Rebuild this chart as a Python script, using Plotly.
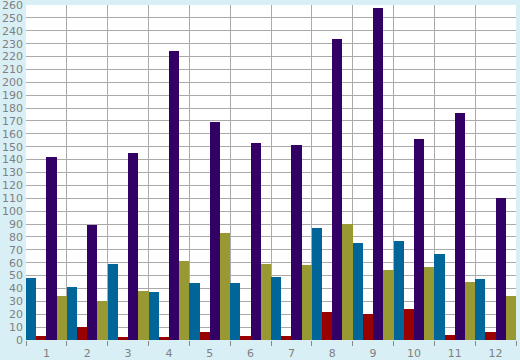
import plotly.graph_objects as go

categories = [1, 2, 3, 4, 5, 6, 7, 8, 9, 10, 11, 12]
tick_labels = [str(c) for c in categories]
series_blue = [48, 41, 59, 37, 44, 44, 49, 87, 75, 77, 67, 47]
series_red = [3, 10, 2, 2, 6, 3, 3, 22, 20, 24, 4, 6]
series_purple = [142, 89, 145, 224, 169, 153, 151, 234, 258, 156, 176, 110]
series_olive = [34, 30, 38, 61, 83, 59, 58, 90, 54, 57, 45, 34]

colors = ["#006699", "#990000", "#330066", "#999933"]
names = ["A", "B", "C", "D"]
data = [series_blue, series_red, series_purple, series_olive]

fig = go.Figure()
for n, c, d in zip(names, colors, data):
    fig.add_trace(go.Bar(x=categories, y=d, name=n, marker=dict(color=c, line=dict(width=0))))

font = dict(family="DejaVu Sans", size=11, color="#808080")
fig.update_layout(
    width=520, height=360,
    margin=dict(l=26, r=4, t=5, b=20, autoexpand=False),
    paper_bgcolor="#d9eff6", plot_bgcolor="#ffffff",
    barmode="group", bargap=0, bargroupgap=0,
    showlegend=False,
    font=font,
    xaxis=dict(
        range=[0.5, 12.5], tickvals=categories, ticktext=tick_labels,
        showgrid=False, ticks="", zeroline=False, tickfont=font,
        showline=False, automargin=False, ticklabeloverflow="allow",
        ticklabelstandoff=5,
        minor=dict(tick0=0.5, dtick=1, showgrid=True, gridcolor="#aaaaaa", gridwidth=1,
                   ticks="outside", ticklen=5, tickcolor="#888888"),
    ),
    yaxis=dict(
        range=[0, 260], dtick=10, showgrid=True, gridcolor="#aaaaaa", gridwidth=1,
        zeroline=False, ticks="", tickfont=font, ticklabelstandoff=2,
        automargin=False, ticklabeloverflow="allow",
    ),
)
fig.write_html("out.html", config={"displayModeBar": False},
               post_script="document.body.style.margin='0';")
